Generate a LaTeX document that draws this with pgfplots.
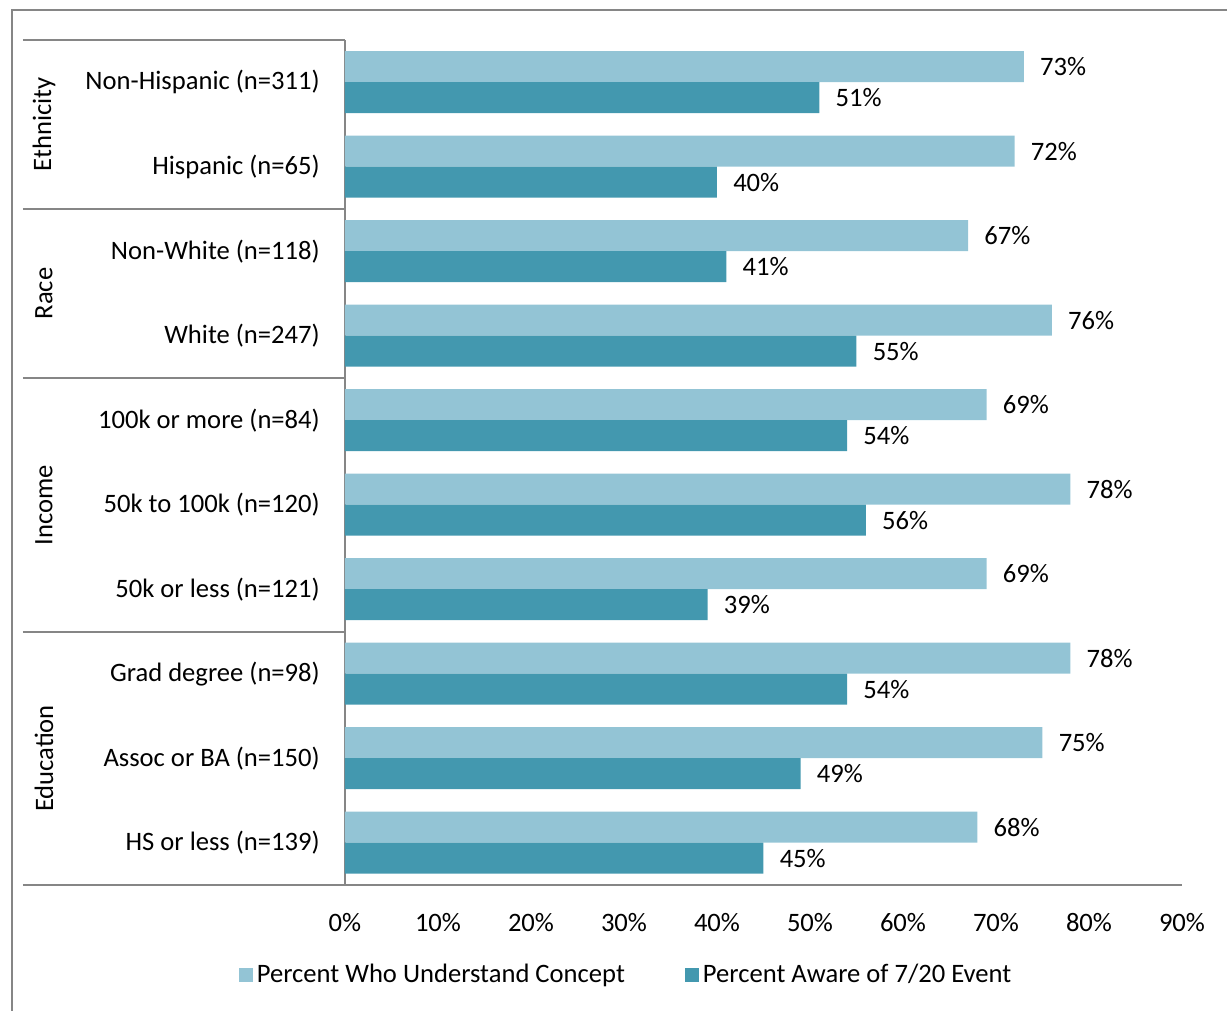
\documentclass[border=0pt]{standalone}
\usepackage{fontspec}
\setmainfont{Carlito}
\usepackage{pgfplots}
\pgfplotsset{compat=1.18}
\definecolor{light}{RGB}{147,196,213}
\definecolor{dark}{RGB}{67,152,175}
\definecolor{lgray}{RGB}{134,134,134}
\newcommand{\fs}{\fontsize{13.3}{15.5}\selectfont}
\begin{document}
\fs
\begin{tikzpicture}
\useasboundingbox (-172.5pt,-63pt) rectangle (441pt,442.5pt);
\draw[lgray, line width=0.8pt] (-166.5pt,-70pt) -- (-166.5pt,437.5pt) -- (450pt,437.5pt);
\begin{axis}[
  at={(0,0)}, anchor=south west,
  scale only axis, width=418.5pt, height=422.5pt,
  xbar, bar width=15.5pt,
  xmin=0, xmax=90, ymin=-0.5, ymax=9.5,
  axis lines*=left, axis line style={lgray, line width=0.8pt, -},
  xtick={0,10,...,90},
  xticklabels={0\%,10\%,20\%,30\%,40\%,50\%,60\%,70\%,80\%,90\%},
  ytick={0,...,9},
  yticklabels={HS or less (n=139),Assoc or BA (n=150),Grad degree (n=98),50k or less (n=121),50k to 100k (n=120),100k or more (n=84),White (n=247),Non-White (n=118),Hispanic (n=65),Non-Hispanic (n=311)},
  major tick length=0pt,
  tick label style={font=\fs, text=black},
  yticklabel style={anchor=east, xshift=-8pt},
  xticklabel style={anchor=north, yshift=-9.5pt},
  /pgf/number format/assume math mode=true,
  nodes near coords={\pgfmathprintnumber{\pgfplotspointmeta}\%},
  nodes near coords style={font=\fs, text=black, anchor=west, xshift=3.5pt},
  clip=false,
  legend columns=2,
  legend style={draw=none, at={(0.337,-0.1065)}, anchor=center, font=\fs, /tikz/every even column/.append style={column sep=28pt}},
  legend image code/.code={\fill[#1] (0pt,-3.5pt) rectangle (7pt,3.5pt);},
]
\addplot[fill=light, draw=none, bar shift=7.75pt] coordinates {
(73,9) (72,8) (67,7) (76,6) (69,5) (78,4) (69,3) (78,2) (75,1) (68,0)};
\addlegendentry{Percent Who Understand Concept}
\addplot[fill=dark, draw=none, bar shift=-7.75pt] coordinates {
(51,9) (40,8) (41,7) (55,6) (54,5) (56,4) (39,3) (54,2) (49,1) (45,0)};
\addlegendentry{Percent Aware of 7/20 Event}
\end{axis}
\draw[lgray, line width=0.8pt] (-161pt,0pt) -- (0pt,0pt);
\draw[lgray, line width=0.8pt] (-161pt,422.5pt) -- (0pt,422.5pt);
\draw[lgray, line width=0.8pt] (-161pt,338pt) -- (0pt,338pt);
\draw[lgray, line width=0.8pt] (-161pt,253.5pt) -- (0pt,253.5pt);
\draw[lgray, line width=0.8pt] (-161pt,126.5pt) -- (0pt,126.5pt);
\node[rotate=90] at (-150.5pt,380.25pt) {Ethnicity};
\node[rotate=90] at (-150.5pt,295.75pt) {Race};
\node[rotate=90] at (-150.5pt,190pt) {Income};
\node[rotate=90] at (-150.5pt,63.25pt) {Education};
\end{tikzpicture}
\end{document}
